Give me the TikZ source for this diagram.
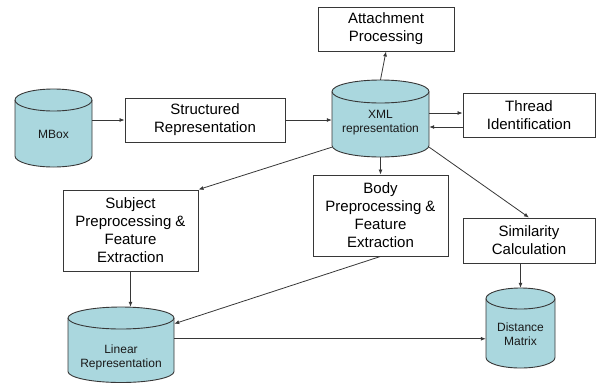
\documentclass[tikz,border=0pt]{standalone}
\usepackage{fontspec}
\setmainfont{Liberation Sans}
\usepackage{tikz}
\usetikzlibrary{arrows.meta}

\definecolor{storefill}{RGB}{170,215,222}
\definecolor{linegray}{RGB}{55,55,55}

% name, left, top, width, height, ellipse radius, text y, text
\newcommand{\drum}[8]{%
  \filldraw[drumline] (#2,{#3+#6}) -- (#2,{#3+#5-#6})
    arc[start angle=180, end angle=360, x radius=0.5*#4pt, y radius=#6pt]
    -- ({#2+#4},{#3+#6})
    arc[start angle=0, end angle=180, x radius=0.5*#4pt, y radius=#6pt] -- cycle;
  \draw[drumline, fill=none] (#2,{#3+#6})
    arc[start angle=180, end angle=360, x radius=0.5*#4pt, y radius=#6pt];
  \node[drumbox, minimum width=#4pt, minimum height=#5pt,
    label={[drumtext, yshift={(#3+0.5*#5-#7)*1pt}]center:#8}]
    (#1) at ({#2+0.5*#4},{#3+0.5*#5}) {};
}

\begin{document}
\begin{tikzpicture}[x=1pt,y=-1pt,
    stepbox/.style={draw=linegray, line width=0.9pt, fill=white, align=center,
      inner sep=0pt, font=\fontsize{15}{18}\selectfont},
    drumline/.style={draw=linegray, line width=0.9pt, fill=storefill},
    drumbox/.style={rectangle, inner sep=0pt},
    drumtext/.style={align=center, inner sep=0pt, text=black!90,
      font=\fontsize{12}{13.5}\selectfont},
    flow/.style={draw=linegray, line width=0.8pt, -{Latex[length=5pt,width=4pt]}}]

      \useasboundingbox (0,0) rectangle (596,383);

      \drum{mbox}{15}{89}{77}{78}{11}{134}{MBox}
      \drum{xml}{332}{80}{97}{77}{11.5}{122.5}{XML\\representation}
      \drum{linear}{68}{307}{106}{75.5}{11}{357.5}{Linear\\Representation}
      \drum{dist}{486}{288}{69}{80}{10.5}{334}{Distance\\Matrix}

      \node[stepbox, minimum width=160pt, minimum height=44pt] (struct) at (205,120)
        {Structured\\Representation};
      \node[stepbox, minimum width=136pt, minimum height=44pt] (attach) at (386,29)
        {Attachment\\Processing};
      \node[stepbox, minimum width=132pt, minimum height=44pt] (thread) at (529,115)
        {Thread\\Identification};
      \node[stepbox, minimum width=135pt, minimum height=81pt] (subj) at (130.5,230.5)
        {Subject\\Preprocessing \&\\Feature\\Extraction};
      \node[stepbox, minimum width=135pt, minimum height=81pt] (body) at (380.5,215.5)
        {Body\\Preprocessing \&\\Feature\\Extraction};
      \node[stepbox, minimum width=132pt, minimum height=45pt] (simil) at (529,240.5)
        {Similarity\\Calculation};

      \draw[flow] (mbox.east |- struct.west) -- (struct.west);
      \draw[flow] (struct.east) -- (struct.east -| xml.west);
      \draw[flow] (xml.north) -- (attach.south);
      \draw[flow] ([yshift=5.5pt]xml.east) -- ([yshift=5.5pt]xml.east -| thread.west);
      \draw[flow] ([yshift=-8.5pt]xml.east -| thread.west) -- ([yshift=-8.5pt]xml.east);
      \draw[flow] (xml.south) -- (body.north);
      \draw[flow] ([yshift=10pt]xml.south west) -- (subj.north east);
      \draw[flow] ([yshift=10pt]xml.south east) -- (simil.north);
      \draw[flow] (subj.south) -- (subj.south |- linear.north);
      \draw[flow] (body.south) -- ([yshift=21pt]linear.east);
      \draw[flow] ([yshift=6pt]linear.east) -- ([yshift=6pt]linear.east -| dist.west);
      \draw[flow] (simil.south -| dist.north) -- (dist.north);
\end{tikzpicture}
\end{document}
